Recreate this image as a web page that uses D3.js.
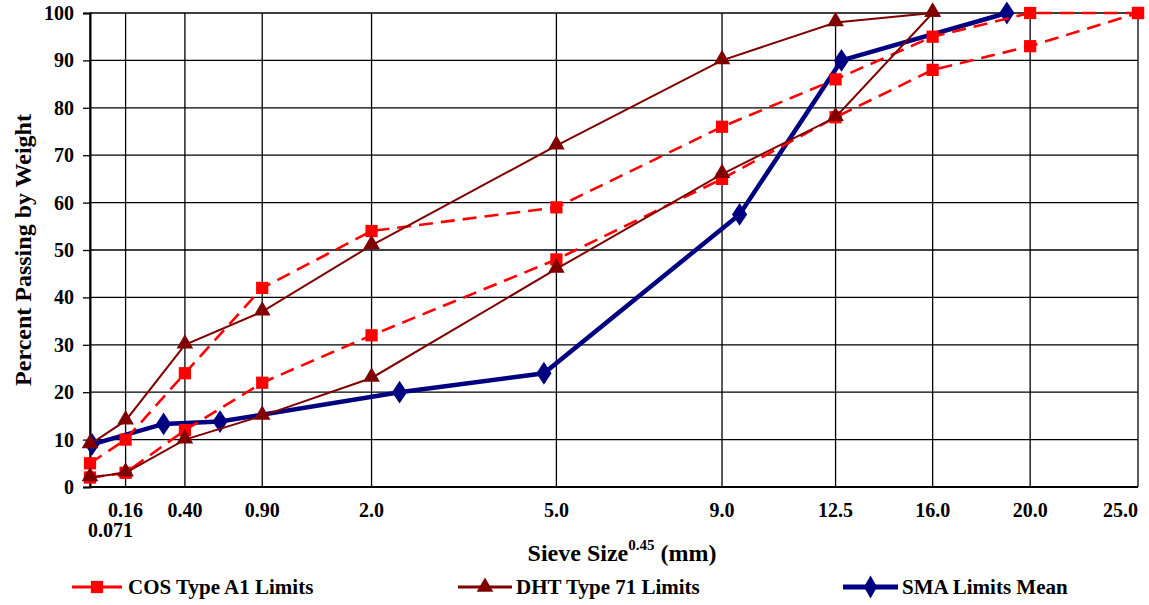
<!DOCTYPE html>
<html lang="en">
<head>
  <meta charset="UTF-8">
  <title>Sieve Size gradation</title>
  <style>
    body { margin: 0; background: #fff; }
    svg text { font-family: "Liberation Serif", "Times New Roman", serif; font-weight: bold; fill: #000; }
  </style>
</head>
<body>
  <svg id="chart"></svg>

  <script src="https://d3js.org/d3.v7.min.js"></script>
  <script>
    // ---- data ----
    var cosSieves = [0.071, 0.16, 0.40, 0.90, 2.0, 5.0, 9.0, 12.5, 16.0, 20.0, 25.0];
    var cosUpper = [5, 10, 24, 42, 54, 59, 76, 86, 95, 100, 100];
    var cosLower = [2, 3, 12, 22, 32, 48, 65, 78, 88, 93, 100];

    var dhtSieves = [0.071, 0.16, 0.40, 0.90, 2.0, 5.0, 9.0, 12.5, 16.0];
    var dhtUpper = [9, 14, 30, 37, 51, 72, 90, 98, 100];
    var dhtLower = [2, 3, 10, 15, 23, 46, 66, 78, 100];

    var smaSieves = [0.075, 0.3, 0.6, 2.36, 4.75, 9.5, 12.7, 19.0];
    var smaMean = [9, 13.3, 13.8, 20, 24, 57.5, 90, 100];

    var xTicks = [0.071, 0.16, 0.40, 0.90, 2.0, 5.0, 9.0, 12.5, 16.0, 20.0, 25.0];
    var xTickLabels = ["0.071", "0.16", "0.40", "0.90", "2.0", "5.0", "9.0", "12.5", "16.0", "20.0", "25.0"];
    var yTicks = [0, 10, 20, 30, 40, 50, 60, 70, 80, 90, 100];

    var width = 1149, height = 605;
    var margin = { top: 13, right: 11, bottom: 118, left: 90 };
    var innerW = width - margin.left - margin.right;
    var innerH = height - margin.top - margin.bottom;

    var svg = d3.select("#chart").attr("width", width).attr("height", height);
    svg.append("rect").attr("width", width).attr("height", height).attr("fill", "#fff");

    // x is sieve size raised to the 0.45 power
    var x = d3.scalePow().exponent(0.45).domain([0.071, 25]).range([0, innerW]);
    var y = d3.scaleLinear().domain([0, 100]).range([innerH, 0]);

    var g = svg.append("g").attr("transform", "translate(" + margin.left + "," + margin.top + ")");

    // grid
    g.append("g").selectAll("line.v")
      .data(xTicks).enter().append("line")
      .attr("x1", function (d) { return x(d); })
      .attr("x2", function (d) { return x(d); })
      .attr("y1", 0).attr("y2", innerH)
      .attr("stroke", "#000").attr("stroke-width", 1.3);

    g.append("g").selectAll("line.h")
      .data(yTicks).enter().append("line")
      .attr("x1", 0).attr("x2", innerW)
      .attr("y1", function (d) { return y(d); })
      .attr("y2", function (d) { return y(d); })
      .attr("stroke", "#000").attr("stroke-width", 1.3);

    // y axis
    var axisY = d3.axisLeft(y).tickValues(yTicks).tickSize(7).tickPadding(9).tickFormat(d3.format("d"));
    var gy = g.append("g").call(axisY);
    gy.select(".domain").attr("stroke", "#000").attr("stroke-width", 2);
    gy.selectAll(".tick line").attr("stroke", "#000").attr("stroke-width", 1.3);
    gy.selectAll("text").attr("font-size", 20)
      .attr("font-family", "Liberation Serif").attr("font-weight", "bold").attr("fill", "#000");

    // bottom axis line
    g.append("line").attr("x1", 0).attr("x2", innerW).attr("y1", innerH).attr("y2", innerH)
      .attr("stroke", "#000").attr("stroke-width", 2);

    // x tick labels
    g.append("g").selectAll("text")
      .data(xTicks).enter().append("text")
      .attr("x", function (d, i) {
        if (i === 0) return x(d) - 2;
        return x(d);
      })
      .attr("y", function (d, i) { return i === 0 ? innerH + 50 : innerH + 30; })
      .attr("text-anchor", function (d, i) {
        if (i === 0) return "start";
        if (i === xTicks.length - 1) return "end";
        return "middle";
      })
      .attr("font-size", 20)
      .text(function (d, i) { return xTickLabels[i]; });

    // axis titles
    var xt = svg.append("text")
      .attr("x", 622).attr("y", 561)
      .attr("text-anchor", "middle")
      .attr("font-size", 24);
    xt.append("tspan").text("Sieve Size");
    xt.append("tspan").attr("font-size", 15).attr("dy", -11).text("0.45");
    xt.append("tspan").attr("dy", 11).text(" (mm)");

    svg.append("text")
      .attr("transform", "translate(31," + (margin.top + innerH / 2) + ") rotate(-90)")
      .attr("text-anchor", "middle")
      .attr("font-size", 24)
      .text("Percent Passing by Weight");

    // lines & markers
    var line = d3.line()
      .x(function (d) { return x(d[0]); })
      .y(function (d) { return y(d[1]); });

    function pairs(xs, ys) {
      return xs.map(function (v, i) { return [v, ys[i]]; });
    }

    var symSquare = d3.symbol().type(d3.symbolSquare).size(150);
    var symTri = d3.symbol().type(d3.symbolTriangle).size(120);
    var symDiamond = d3.symbol().type(d3.symbolDiamond).size(150);

    function drawSeries(data, color, lw, dash, sym, extra) {
      g.append("path")
        .datum(data)
        .attr("d", line)
        .attr("fill", "none")
        .attr("stroke", color)
        .attr("stroke-width", lw)
        .attr("stroke-dasharray", dash);
      g.append("g").selectAll("path")
        .data(data).enter().append("path")
        .attr("d", sym)
        .attr("transform", function (d) {
          return "translate(" + x(d[0]) + "," + y(d[1]) + ")" + (extra || "");
        })
        .attr("fill", color);
    }

    var smaColor = "#000080", cosColor = "#ff0000", dhtColor = "#800000";

    drawSeries(pairs(smaSieves, smaMean), smaColor, 4.5, null, symDiamond, " scale(1.15,1)");
    drawSeries(pairs(cosSieves, cosUpper), cosColor, 2.6, "14,8", symSquare);
    drawSeries(pairs(cosSieves, cosLower), cosColor, 2.6, "14,8", symSquare);
    drawSeries(pairs(dhtSieves, dhtUpper), dhtColor, 2, null, symTri, " translate(0,-1)");
    drawSeries(pairs(dhtSieves, dhtLower), dhtColor, 2, null, symTri, " translate(0,-1)");

    // legend
    var legendItems = [
      { name: "COS Type A1 Limits", color: cosColor, lw: 3, sym: symSquare, x1: 72, x2: 122, tx: 128 },
      { name: "DHT Type 71 Limits", color: dhtColor, lw: 3, sym: symTri, x1: 458, x2: 512, tx: 516 },
      { name: "SMA Limits Mean", color: smaColor, lw: 5, sym: symDiamond, x1: 843, x2: 898, tx: 902 }
    ];
    var ly = 587;
    var lg = svg.append("g").selectAll("g").data(legendItems).enter().append("g");
    lg.append("line")
      .attr("x1", function (d) { return d.x1; })
      .attr("x2", function (d) { return d.x2; })
      .attr("y1", ly).attr("y2", ly)
      .attr("stroke", function (d) { return d.color; })
      .attr("stroke-width", function (d) { return d.lw; });
    lg.append("path")
      .attr("d", function (d) { return d.sym(); })
      .attr("transform", function (d) { return "translate(" + ((d.x1 + d.x2) / 2) + "," + ly + ")"; })
      .attr("fill", function (d) { return d.color; });
    lg.append("text")
      .attr("x", function (d) { return d.tx; })
      .attr("y", ly + 7)
      .attr("font-size", 21)
      .text(function (d) { return d.name; });
  </script>
</body>
</html>
